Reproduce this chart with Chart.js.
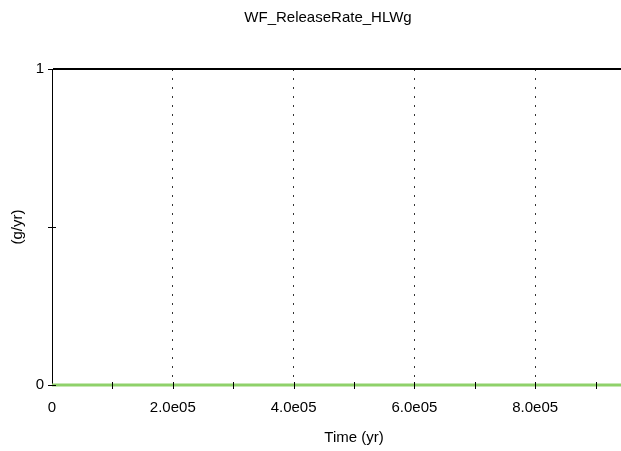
<!DOCTYPE html>
<html>
<head>
<meta charset="utf-8">
<script src="https://cdn.jsdelivr.net/npm/chart.js@4/dist/chart.umd.min.js"></script>
<style>
  html, body { margin: 0; padding: 0; background: #fff; overflow: hidden; }
  #wrap { width: 621px; height: 451px; overflow: hidden; }
</style>
</head>
<body>
<div id="wrap"><canvas id="c" width="675" height="451"></canvas></div>
<script>
// Release rate over time (yr), in g/yr
const timeYr = [0, 100000, 200000, 300000, 400000, 500000, 600000, 700000, 800000, 900000, 1000000];
const releaseRate = [0, 0, 0, 0, 0, 0, 0, 0, 0, 0, 0];
const xTickValues = [0, 100000, 200000, 300000, 400000, 500000, 600000, 700000, 800000, 900000, 1000000];
const xLabelledTicks = [0, 200000, 400000, 600000, 800000];
const yTickValues = [0, 0.5, 1];
const yLabelledTicks = [0, 1];

const FONT = 'Liberation Sans, Arial, sans-serif';
const FONT_SIZE = 15;

function sciLabel(v) {
  if (v === 0) return '0';
  const e = Math.floor(Math.log10(v));
  const m = v / Math.pow(10, e);
  return m.toFixed(1) + 'e' + String(e).padStart(2, '0');
}

// Tick marks that cross the axis line on both sides
const crossTicks = {
  id: 'crossTicks',
  afterDatasetsDraw(chart) {
    const { ctx, scales: { x, y } } = chart;
    ctx.save();
    ctx.strokeStyle = '#000';
    ctx.lineWidth = 1;
    ctx.beginPath();
    x.ticks.forEach(t => {
      if (t.value === 0) return;
      const px = Math.round(x.getPixelForValue(t.value)) + 0.5;
      ctx.moveTo(px, y.bottom - 3);
      ctx.lineTo(px, y.bottom + 4);
    });
    y.ticks.forEach(t => {
      const py = Math.round(y.getPixelForValue(t.value)) + 0.5;
      ctx.moveTo(x.left - 4, py);
      ctx.lineTo(x.left + 4, py);
    });
    ctx.stroke();
    ctx.restore();
  }
};

new Chart(document.getElementById('c'), {
  type: 'line',
  data: {
    datasets: [{
      data: timeYr.map((t, i) => ({ x: t, y: releaseRate[i] })),
      borderColor: '#8fd16a',
      borderWidth: 3,
      pointRadius: 0,
      tension: 0,
      clip: false
    }]
  },
  options: {
    responsive: false,
    animation: false,
    layout: { padding: { top: 0, left: 0, right: 19, bottom: 0 } },
    plugins: {
      legend: { display: false },
      tooltip: { enabled: false },
      title: {
        display: true,
        text: 'WF_ReleaseRate_HLWg',
        color: '#000',
        font: { family: FONT, size: FONT_SIZE, weight: 'normal' },
        padding: { top: 9, bottom: 42 }
      }
    },
    scales: {
      x: {
        type: 'linear',
        min: 0,
        max: 1000000,
        bounds: 'data',
        afterFit(s) { s.height = 66; },
        afterBuildTicks(s) { s.ticks = xTickValues.map(v => ({ value: v })); },
        border: { display: true, color: '#000', width: 1, dash: [2, 7] },
        grid: {
          drawOnChartArea: true,
          color: ctx => (ctx.tick && ctx.tick.value > 0 && xLabelledTicks.includes(ctx.tick.value)) ? '#333' : 'rgba(0,0,0,0)',
          lineWidth: 1,
          tickLength: 4,
          tickColor: 'rgba(0,0,0,0)'
        },
        ticks: {
          autoSkip: false,
          maxRotation: 0,
          color: '#000',
          padding: 10,
          font: { family: FONT, size: FONT_SIZE },
          callback: v => (xLabelledTicks.includes(v) ? sciLabel(v) : '')
        },
        title: {
          display: true,
          text: 'Time (yr)',
          color: '#000',
          font: { family: FONT, size: FONT_SIZE },
          padding: { top: 4, bottom: 4 }
        }
      },
      y: {
        type: 'linear',
        min: 0,
        max: 1,
        afterFit(s) { s.width = 52; },
        afterBuildTicks(s) { s.ticks = yTickValues.map(v => ({ value: v })); },
        border: { display: true, color: '#000', width: 1 },
        grid: {
          color: ctx => (ctx.tick && ctx.tick.value === 1) ? '#000' : 'rgba(0,0,0,0)',
          lineWidth: 2,
          tickLength: 4,
          tickColor: 'rgba(0,0,0,0)'
        },
        ticks: {
          color: '#000',
          padding: 4,
          font: { family: FONT, size: FONT_SIZE },
          callback: v => (yLabelledTicks.includes(v) ? String(v) : '')
        },
        title: {
          display: true,
          text: '(g/yr)',
          color: '#000',
          font: { family: FONT, size: FONT_SIZE },
          padding: { top: 9, bottom: 0 }
        }
      }
    }
  },
  plugins: [crossTicks]
});
</script>
</body>
</html>
